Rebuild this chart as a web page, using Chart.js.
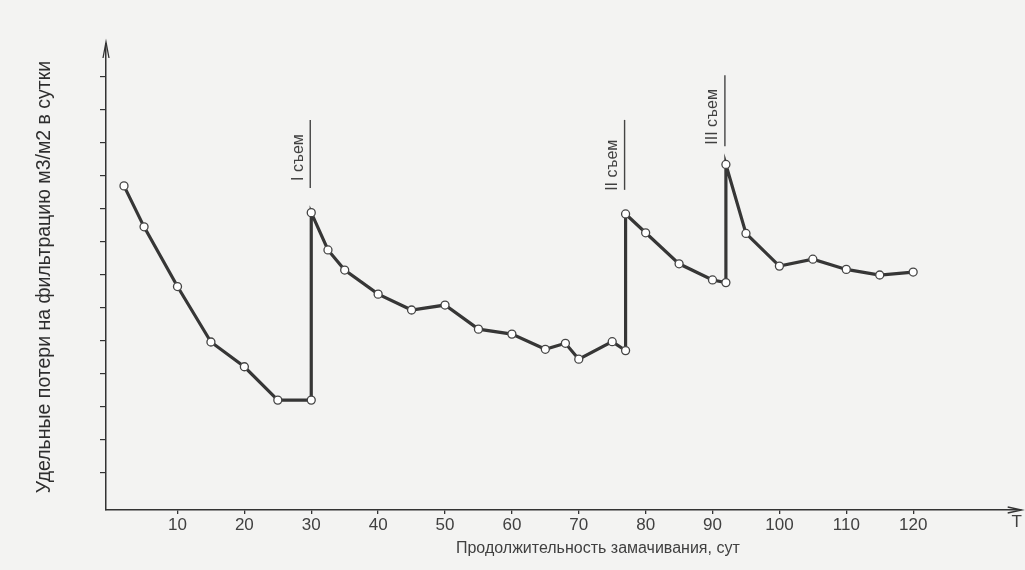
<!DOCTYPE html>
<html lang="ru">
<head>
<meta charset="utf-8">
<title>Удельные потери на фильтрацию</title>
<script src="https://cdn.jsdelivr.net/npm/chart.js@4/dist/chart.umd.min.js"></script>
<style>
  html, body { margin: 0; padding: 0; background: #f3f3f2; }
  #wrap { width: 1025px; height: 570px; }
</style>
</head>
<body>
<div id="wrap"><canvas id="chart" width="1025" height="570"></canvas></div>
<script>
// Duration of soaking, days
const days = [2, 5, 10, 15, 20, 25, 30, 30, 32.5, 35, 40, 45, 50, 55, 60, 65, 68, 70, 75, 77, 77,
  80, 85, 90, 92, 92, 95, 100, 105, 110, 115, 120];
// Specific filtration losses (axis has no numbers, values in tick units)
const losses = [9.7, 8.46, 6.65, 4.97, 4.22, 3.21, 3.21, 8.89, 7.76, 7.15, 6.42, 5.94, 6.09, 5.36, 5.21,
  4.75, 4.93, 4.45, 4.98, 4.71, 8.85, 8.28, 7.34, 6.85, 6.77, 10.35, 8.26, 7.27, 7.48, 7.17, 7.0, 7.09];

const xTicks = [10, 20, 30, 40, 50, 60, 70, 80, 90, 100, 110, 120];
const yTicks = [1, 2, 3, 4, 5, 6, 7, 8, 9, 10, 11, 12, 13];

// harvests ("съем") marked above the jumps
const harvestDays = [30, 77, 92];
const harvestLabels = ["I съем", "II съем", "III съем"];

const yTitle = "Удельные потери на фильтрацию м3/м2 в сутки";
const xTitle = "Продолжительность замачивания, сут";
const xEndLabel = "T";

const FONT = "'Liberation Sans', Arial, sans-serif";
const INK = "#363636";

// label placement for the harvest marks (y in axis units: text start, line top, line bottom)
const harvestLayout = [
  { textFrom: 9.85, lineTop: 11.7, lineBottom: 9.64 },
  { textFrom: 9.55, lineTop: 11.7, lineBottom: 9.58 },
  { textFrom: 10.95, lineTop: 13.05, lineBottom: 10.9 }
];

const overlay = {
  id: "overlay",
  afterDraw(chart) {
    const { ctx, chartArea, scales } = chart;
    const x = scales.x, y = scales.y;
    ctx.save();

    // axis arrows
    ctx.strokeStyle = "#333";
    ctx.lineWidth = 1.3;
    ctx.beginPath();
    ctx.moveTo(chartArea.left - 3, chartArea.top + 14);
    ctx.lineTo(chartArea.left, chartArea.top - 2);
    ctx.lineTo(chartArea.left + 3, chartArea.top + 14);
    ctx.stroke();
    ctx.beginPath();
    ctx.moveTo(chartArea.right - 12, chartArea.bottom - 3);
    ctx.lineTo(chartArea.right + 2, chartArea.bottom);
    ctx.lineTo(chartArea.right - 12, chartArea.bottom + 3);
    ctx.stroke();

    // T at the end of the x axis
    ctx.fillStyle = "#404040";
    ctx.font = "17px " + FONT;
    ctx.textAlign = "center";
    ctx.textBaseline = "middle";
    ctx.fillText(xEndLabel, chartArea.right - 3, chartArea.bottom + 12);

    // x axis title
    ctx.font = "16px " + FONT;
    ctx.fillText(xTitle, (chartArea.left + chartArea.right) / 2 + 35, chartArea.bottom + 39);

    // harvest labels, written upwards and underlined
    harvestDays.forEach((d, i) => {
      const lay = harvestLayout[i];
      const px = x.getPixelForValue(d) - 1;
      ctx.strokeStyle = "#444";
      ctx.lineWidth = 1.4;
      ctx.beginPath();
      ctx.moveTo(px, y.getPixelForValue(lay.lineTop));
      ctx.lineTo(px, y.getPixelForValue(lay.lineBottom));
      ctx.stroke();

      ctx.save();
      ctx.translate(px - 12, y.getPixelForValue(lay.textFrom));
      ctx.rotate(-Math.PI / 2);
      ctx.font = "16px " + FONT;
      ctx.fillStyle = "#404040";
      ctx.textAlign = "left";
      ctx.textBaseline = "middle";
      ctx.fillText(harvestLabels[i], 0, 0);
      ctx.restore();
    });

    ctx.restore();
  }
};

new Chart(document.getElementById("chart").getContext("2d"), {
  type: "line",
  data: {
    datasets: [
      {
        data: days.map((d, i) => ({ x: d, y: losses[i] })),
        borderColor: INK,
        borderWidth: 3.2,
        tension: 0,
        pointRadius: 4,
        pointBorderWidth: 1.3,
        pointBackgroundColor: "#ffffff",
        pointBorderColor: "#444"
      }
    ]
  },
  options: {
    responsive: false,
    animation: false,
    layout: { padding: { top: 44, right: 5, bottom: 0, left: 0 } },
    plugins: {
      legend: { display: false },
      tooltip: { enabled: false }
    },
    scales: {
      x: {
        type: "linear",
        min: -0.69,
        max: 135.93,
        afterBuildTicks: (s) => { s.ticks = xTicks.map((v) => ({ value: v })); },
        afterFit: (s) => { s.height = 60; },
        grid: { drawOnChartArea: false, drawTicks: true, tickLength: 4, color: "#333", lineWidth: 1.3 },
        border: { color: "#333", width: 1.5 },
        ticks: { color: "#404040", font: { size: 17, family: FONT }, padding: 1, maxRotation: 0 }
      },
      y: {
        min: -0.12,
        max: 14,
        afterBuildTicks: (s) => { s.ticks = yTicks.map((v) => ({ value: v })); },
        afterFit: (s) => { s.width = 106; },
        grid: { drawOnChartArea: false, drawTicks: true, tickLength: 6, color: "#333", lineWidth: 1.2 },
        border: { color: "#333", width: 1.5 },
        ticks: { display: false },
        title: {
          display: true,
          text: yTitle,
          color: "#2e2e2e",
          font: { size: 19.5, family: FONT },
          padding: { top: 33, bottom: 0 }
        }
      }
    }
  },
  plugins: [overlay]
});
</script>
</body>
</html>
